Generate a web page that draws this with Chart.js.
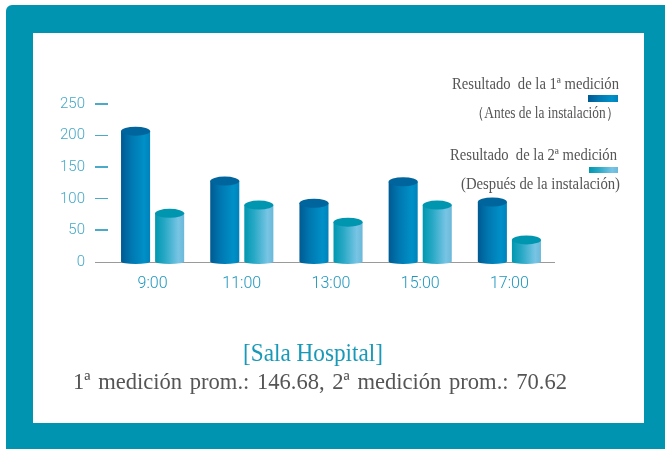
<!DOCTYPE html>
<html>
<head>
<meta charset="utf-8">
<script src="https://cdn.jsdelivr.net/npm/chart.js@4.4.0/dist/chart.umd.min.js"></script>
<style>
  body { margin:0; width:665px; height:449px; position:relative; background:#fff; overflow:hidden; }
  #frame { position:absolute; left:6px; top:5px; width:659px; height:444px; background:#0094b1; border-top-left-radius:6px; }
  #inner { position:absolute; left:33px; top:33px; width:611px; height:390px; background:#fff; }
  #wrap { position:absolute; left:0; top:0; width:665px; height:449px; }
</style>
</head>
<body>
<div id="frame"></div>
<div id="inner"></div>
<div id="wrap"><canvas id="bar-chart"></canvas></div>
<script>
// data
const hours = ['9:00', '11:00', '13:00', '15:00', '17:00'];
const antes = [207, 128, 93, 127, 95];
const despues = [77, 90, 63, 90, 35];
const yTicks = [0, 50, 100, 150, 200, 250];

const legend1 = ['Resultado  de la 1ª medición', '（Antes de la instalación）'];
const legend2 = ['Resultado  de la 2ª medición', '(Después de la instalación)'];
const chartTitle = '[Sala Hospital]';
const chartSubtitle = '1ª medición prom.: 146.68, 2ª medición prom.: 70.62';

// cylinder look per dataset
const looks = [
  { stops: ['#005a92', '#0077b0', '#0090c8', '#0082bb'], top: '#00659c' },
  { stops: ['#0097b0', '#2aa9c6', '#78c4e4', '#6cb8da'], top: '#0096af' }
];

function bodyGradient(ctx, x0, x1, stops) {
  const g = ctx.createLinearGradient(x0, 0, x1, 0);
  g.addColorStop(0, stops[0]);
  g.addColorStop(0.35, stops[1]);
  g.addColorStop(0.8, stops[2]);
  g.addColorStop(1, stops[3]);
  return g;
}

const cylinders = {
  id: 'cylinders',
  afterDatasetsDraw(chart) {
    const ctx = chart.ctx;
    chart.data.datasets.forEach((ds, i) => {
      const meta = chart.getDatasetMeta(i);
      const look = looks[i];
      meta.data.forEach(bar => {
        const p = bar.getProps(['x', 'y', 'base', 'width'], true);
        const rx = p.width / 2, ry = 4.5;
        const left = p.x - rx, right = p.x + rx;
        ctx.save();
        ctx.beginPath();
        ctx.moveTo(left, p.y);
        ctx.lineTo(left, p.base);
        ctx.ellipse(p.x, p.base, rx, 2.5, 0, Math.PI, 0, true);
        ctx.lineTo(right, p.y);
        ctx.closePath();
        ctx.fillStyle = bodyGradient(ctx, left, right, look.stops);
        ctx.fill();
        ctx.beginPath();
        ctx.ellipse(p.x, p.y, rx, ry, 0, 0, Math.PI * 2);
        ctx.fillStyle = look.top;
        ctx.fill();
        ctx.restore();
      });
    });
  }
};

const textBits = {
  id: 'textBits',
  afterDraw(chart) {
    const ctx = chart.ctx;
    ctx.save();
    ctx.textAlign = 'right';
    ctx.textBaseline = 'alphabetic';
    ctx.fillStyle = '#555';
    ctx.font = '16px "Liberation Serif", "Times New Roman", serif';
    ctx.fillText(legend1[0], 619, 89, 167);
    ctx.fillText(legend1[1], 619, 118, 148);
    ctx.fillText(legend2[0], 617, 160, 167);
    ctx.fillText(legend2[1], 620, 189, 159);

    ctx.fillStyle = bodyGradient(ctx, 588, 618, looks[0].stops);
    ctx.fillRect(588, 95, 30, 7);
    ctx.fillStyle = bodyGradient(ctx, 589, 618, looks[1].stops);
    ctx.fillRect(589, 167, 29, 6);

    ctx.textAlign = 'center';
    ctx.fillStyle = '#1899b8';
    ctx.font = '26px "Liberation Serif", "Times New Roman", serif';
    ctx.fillText(chartTitle, 313, 361, 140);
    ctx.fillStyle = '#555';
    ctx.font = '23px "Liberation Serif", "Times New Roman", serif';
    if ('wordSpacing' in ctx) ctx.wordSpacing = '2px';
    ctx.fillText(chartSubtitle, 320, 389, 494);
    ctx.restore();
  }
};

new Chart(document.getElementById('bar-chart'), {
  type: 'bar',
  data: {
    labels: hours,
    datasets: [
      { label: legend1[0], data: antes, backgroundColor: 'rgba(0,0,0,0)' },
      { label: legend2[0], data: despues, backgroundColor: 'rgba(0,0,0,0)' }
    ]
  },
  options: {
    responsive: true,
    maintainAspectRatio: false,
    animation: false,
    events: [],
    categoryPercentage: 0.764,
    barPercentage: 0.853,
    layout: { padding: { left: 0, top: 104, right: 111, bottom: 137 } },
    plugins: { legend: { display: false }, tooltip: { enabled: false } },
    scales: {
      x: {
        grid: { display: false, drawTicks: false, tickLength: 0 },
        border: { display: true, color: '#9a9a9a', width: 1 },
        ticks: { color: '#1e96be', padding: 12, font: { family: 'Roboto', weight: '300', size: 16 } },
        afterFit(scale) { scale.height = 50; }
      },
      y: {
        min: 0,
        max: 250,
        afterBuildTicks(scale) { scale.ticks = yTicks.map(v => ({ value: v })); },
        grid: {
          drawOnChartArea: false,
          drawTicks: true,
          tickLength: 13,
          color: c => c.tick && c.tick.value === 0 ? '#9a9a9a' : '#4aaac8',
          lineWidth: c => c.tick && (c.tick.value === 50 || c.tick.value === 150 || c.tick.value === 250) ? 2 : 1
        },
        border: { display: false },
        ticks: { color: '#45a8c8', padding: 10, font: { family: 'Roboto', weight: '300', size: 15 } },
        afterFit(scale) { scale.width = 108; }
      }
    }
  },
  plugins: [cylinders, textBits]
});
</script>
</body>
</html>
